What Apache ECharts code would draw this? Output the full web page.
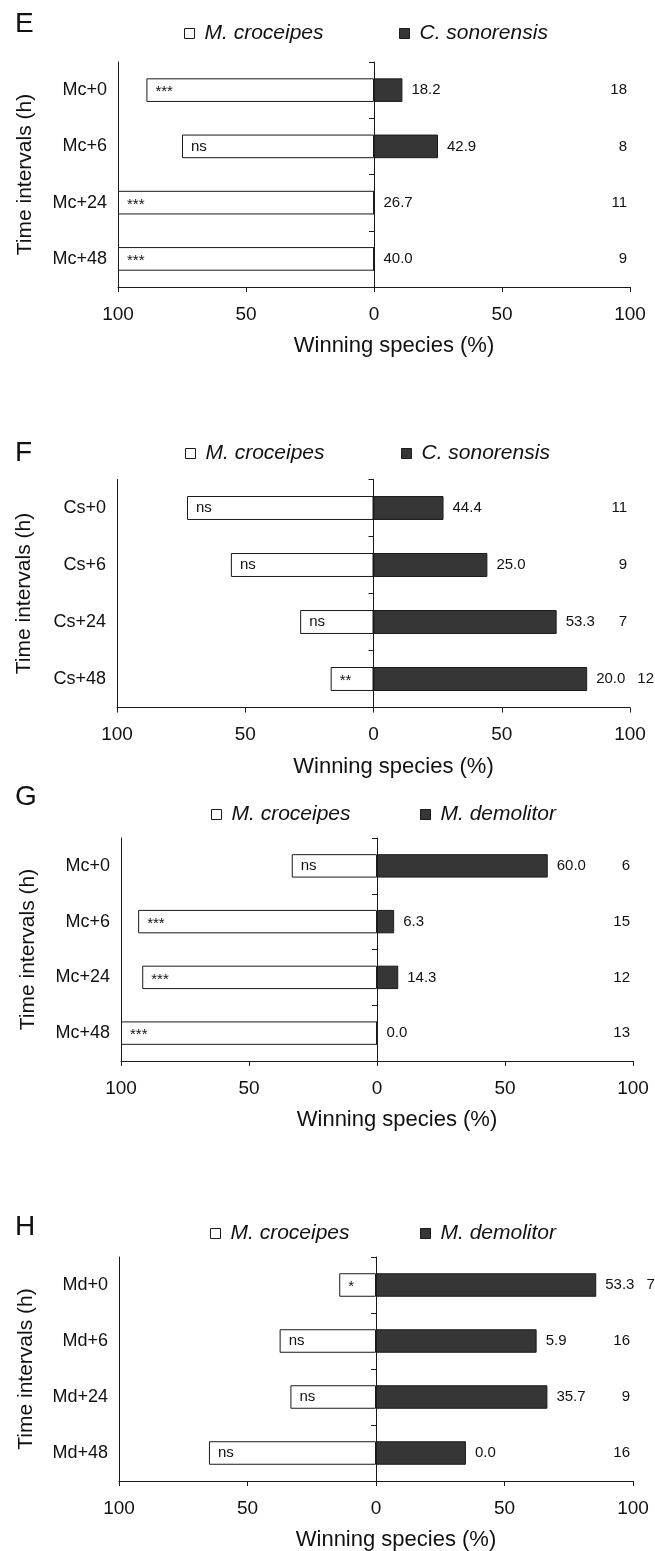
<!DOCTYPE html>
<html>
<head>
<meta charset="utf-8">
<script src="https://cdn.jsdelivr.net/npm/echarts@6/dist/echarts.min.js"></script>
<style>
  html, body { margin: 0; padding: 0; background: #fff; }
  #chart { width: 655px; height: 1551px; }
</style>
</head>
<body>
<div id="chart"></div>
<script>
// ---- data ----
const catsE = ['Mc+0', 'Mc+6', 'Mc+24', 'Mc+48'];
const catsF = ['Cs+0', 'Cs+6', 'Cs+24', 'Cs+48'];
const catsG = ['Mc+0', 'Mc+6', 'Mc+24', 'Mc+48'];
const catsH = ['Md+0', 'Md+6', 'Md+24', 'Md+48'];

// winning percentage of M. croceipes (drawn to the left)
const croceipesE = [88.9, 75.0, 100, 100];
const croceipesF = [72.7, 55.6, 28.6, 16.7];
const croceipesG = [33.3, 93.3, 91.7, 100];
const croceipesH = [14.3, 37.5, 33.3, 65.0];

// winning percentage of the competing species (drawn to the right)
const sonorensisE = [11.1, 25.0, 0, 0];
const sonorensisF = [27.3, 44.4, 71.4, 83.3];
const demolitorG = [66.7, 6.7, 8.3, 0];
const demolitorH = [85.7, 62.5, 66.7, 35.0];

// significance marks
const sigE = ['***', 'ns', '***', '***'];
const sigF = ['ns', 'ns', 'ns', '**'];
const sigG = ['ns', '***', '***', '***'];
const sigH = ['*', 'ns', 'ns', 'ns'];

// percentages printed beside the right-hand bars
const sideE = ['18.2', '42.9', '26.7', '40.0'];
const sideF = ['44.4', '25.0', '53.3', '20.0'];
const sideG = ['60.0', '6.3', '14.3', '0.0'];
const sideH = ['53.3', '5.9', '35.7', '0.0'];

// number of replicates
const nE = [18, 8, 11, 9];
const nF = [11, 9, 7, 12];
const nG = [6, 15, 12, 13];
const nH = [7, 16, 9, 16];

// ---- layout / style ----
const FONT = "'Liberation Sans', Arial, Helvetica, sans-serif";
const INK = '#111';
const LINE = '#1a1a1a';
const DARK = '#363636';

const panels = [
  { letter: 'E', cats: catsE, left: croceipesE, right: sonorensisE, sig: sigE, side: sideE, n: nE,
    rival: 'C. sonorensis', grid: { left: 118, top: 62, width: 512, height: 225 },
    letterTop: 10, legendTop: 23, legendLeft: [184, 399] },
  { letter: 'F', cats: catsF, left: croceipesF, right: sonorensisF, sig: sigF, side: sideF, n: nF,
    rival: 'C. sonorensis', grid: { left: 117, top: 479.5, width: 513, height: 228 },
    letterTop: 439, legendTop: 443, legendLeft: [185, 401] },
  { letter: 'G', cats: catsG, left: croceipesG, right: demolitorG, sig: sigG, side: sideG, n: nG,
    rival: 'M. demolitor', grid: { left: 121, top: 838, width: 512, height: 223 },
    letterTop: 783, legendTop: 804, legendLeft: [211, 420] },
  { letter: 'H', cats: catsH, left: croceipesH, right: demolitorH, sig: sigH, side: sideH, n: nH,
    rival: 'M. demolitor', grid: { left: 119, top: 1257, width: 514, height: 224 },
    letterTop: 1213, legendTop: 1223, legendLeft: [210, 420] }
];

const measureCtx = document.createElement('canvas').getContext('2d');
function textWidth(text, size) {
  measureCtx.font = size + 'px ' + FONT;
  return measureCtx.measureText(text).width;
}

const WHITE_STYLE = { color: '#fff', borderColor: LINE, borderWidth: 1 };
const DARK_STYLE = { color: DARK, borderColor: '#1c1c1c', borderWidth: 1 };

const option = {
  animation: false,
  backgroundColor: '#fff',
  textStyle: { fontFamily: FONT, color: INK },
  title: [], legend: [], grid: [], xAxis: [], yAxis: [], series: []
};

panels.forEach((p, k) => {
  option.title.push({
    text: p.letter, left: 15, top: p.letterTop, padding: 0,
    textStyle: { fontSize: 28, fontWeight: 'normal', color: INK, fontFamily: FONT }
  });

  const legendBase = {
    top: p.legendTop, padding: 0, icon: 'rect', itemWidth: 10, itemHeight: 10,
    selectedMode: false,
    textStyle: { fontSize: 21, fontStyle: 'italic', color: INK, fontFamily: FONT, padding: [0, 0, 0, 5] }
  };
  option.legend.push(Object.assign({}, legendBase, {
    left: p.legendLeft[0], data: [{ name: 'M. croceipes', itemStyle: WHITE_STYLE }]
  }));
  option.legend.push(Object.assign({}, legendBase, {
    left: p.legendLeft[1], data: [{ name: p.rival, itemStyle: DARK_STYLE }]
  }));

  option.grid.push(Object.assign({ outerBoundsMode: 'none', containLabel: false }, p.grid));

  option.xAxis.push({
    type: 'value', gridIndex: k, min: -100, max: 100, interval: 50,
    axisLine: { show: true, onZero: false, lineStyle: { color: LINE, width: 1 } },
    axisTick: { show: true, length: 5, inside: false, lineStyle: { color: LINE, width: 1 } },
    axisLabel: { formatter: v => String(Math.abs(v)), margin: 18, fontSize: 19, color: INK,
                 fontFamily: FONT, showMinLabel: true, showMaxLabel: true },
    splitLine: { show: false },
    name: 'Winning species (%)', nameLocation: 'middle', nameGap: 48,
    nameTextStyle: { fontSize: 22, color: INK, fontFamily: FONT, padding: [0, 0, 0, 40] }
  });

  // left axis with the treatment labels
  option.yAxis.push({
    type: 'category', gridIndex: k, data: p.cats, inverse: true, position: 'left',
    axisLine: { show: true, onZero: false, lineStyle: { color: LINE, width: 1 } },
    axisTick: { show: false },
    axisLabel: { margin: 11, fontSize: 18, color: INK, fontFamily: FONT },
    splitLine: { show: false },
    name: 'Time intervals (h)', nameLocation: 'middle', nameGap: 82, nameRotate: 90,
    nameTextStyle: { fontSize: 21, color: INK, fontFamily: FONT }
  });
  // centre axis through zero with category ticks
  option.yAxis.push({
    type: 'category', gridIndex: k, data: p.cats, inverse: true, position: 'right',
    axisLine: { show: true, onZero: true, lineStyle: { color: LINE, width: 1 } },
    axisTick: { show: true, inside: true, length: 5, lineStyle: { color: LINE, width: 1 } },
    axisLabel: { show: false },
    splitLine: { show: false }
  });

  option.series.push({
    name: 'M. croceipes', type: 'bar', xAxisIndex: k, yAxisIndex: 2 * k,
    barWidth: '42%', barGap: '-100%', silent: true,
    itemStyle: WHITE_STYLE,
    data: p.left.map((v, i) => ({
      value: -v,
      label: { offset: p.sig[i].indexOf('*') >= 0 ? [0, 2] : [0, 0] }
    })),
    label: {
      show: true, position: 'insideLeft', distance: 9,
      formatter: q => p.sig[q.dataIndex],
      fontSize: 15, color: INK, fontFamily: FONT
    }
  });
  option.series.push({
    name: p.rival, type: 'bar', xAxisIndex: k, yAxisIndex: 2 * k,
    barWidth: '42%', barGap: '-100%', silent: true,
    itemStyle: DARK_STYLE,
    data: p.right.slice(),
    label: {
      show: true, position: 'right', distance: 9,
      formatter: q => p.side[q.dataIndex],
      fontSize: 15, color: INK, fontFamily: FONT
    }
  });
  // replicate counts: right-aligned near the right edge, pushed outward when the
  // beside-bar percentage would otherwise collide with them
  option.series.push({
    type: 'custom', xAxisIndex: k, yAxisIndex: 2 * k, silent: true,
    data: p.right.map((v, i) => [v, i, p.n[i]]),
    encode: { x: 0, y: 1 },
    renderItem: (params, api) => {
      const i = params.dataIndex;
      const end = api.coord([api.value(0), api.value(1)]);
      const cs = params.coordSys;
      const txt = String(p.n[i]);
      const nW = textWidth(txt, 15);
      const pushed = end[0] + 9 + textWidth(p.side[i], 15) + 12 + nW;
      const x = Math.max(cs.x + cs.width - 3, pushed);
      return {
        type: 'text', x: x, y: end[1],
        style: { text: txt, align: 'right', verticalAlign: 'middle',
                 fontSize: 15, fontFamily: FONT, fill: INK }
      };
    }
  });
});

const chart = echarts.init(document.getElementById('chart'), null, { renderer: 'canvas' });
chart.setOption(option);
</script>
</body>
</html>
